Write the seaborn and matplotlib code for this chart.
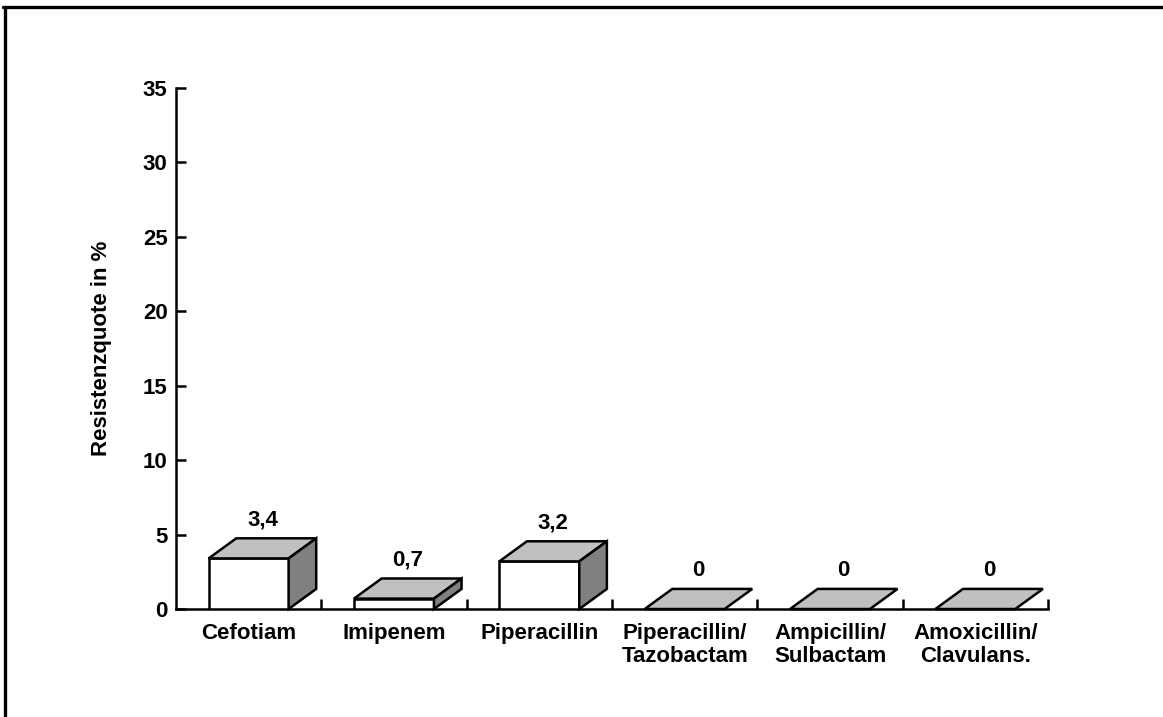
import matplotlib
matplotlib.use("Agg")
import matplotlib.pyplot as plt
from matplotlib.patches import Polygon
from matplotlib.lines import Line2D
import seaborn as sns
import pandas as pd

categories = ["Cefotiam", "Imipenem", "Piperacillin",
              "Piperacillin/\nTazobactam", "Ampicillin/\nSulbactam",
              "Amoxicillin/\nClavulans."]
values = [3.4, 0.7, 3.2, 0, 0, 0]
y_ticks = [0, 5, 10, 15, 20, 25, 30, 35]
y_label = "Resistenzquote in %"

df = pd.DataFrame({"Antibiotikum": categories, "Quote": values})

sns.set_theme(style="white")
plt.rcParams["font.family"] = ["Liberation Sans", "DejaVu Sans"]
plt.rcParams["font.weight"] = "bold"

FS = 16
DEPTH_X = 0.19   # depth of the 3D extrusion, in category units
DEPTH_Y = 1.35   # depth of the 3D extrusion, in value units
TOP_COLOR = "#c0c0c0"
SIDE_COLOR = "#808080"
LW = 1.8

fig = plt.figure(figsize=(11.63, 7.17), dpi=100)
ax = fig.add_axes([0.1513, 0.1506, 0.7498, 0.7267])

sns.barplot(data=df, x="Antibiotikum", y="Quote", ax=ax, color="white",
            width=0.55, edgecolor="black", linewidth=LW, saturation=1,
            errorbar=None, zorder=3)

for p, v in zip(ax.patches, values):
    x0, w, h = p.get_x(), p.get_width(), p.get_height()
    top = Polygon([(x0, h), (x0 + w, h), (x0 + w + DEPTH_X, h + DEPTH_Y),
                   (x0 + DEPTH_X, h + DEPTH_Y)], closed=True,
                  facecolor=TOP_COLOR, edgecolor="black", linewidth=LW,
                  joinstyle="miter", zorder=4, clip_on=False)
    ax.add_patch(top)
    if h > 0:
        side = Polygon([(x0 + w, 0), (x0 + w + DEPTH_X, DEPTH_Y),
                        (x0 + w + DEPTH_X, h + DEPTH_Y), (x0 + w, h)],
                       closed=True, facecolor=SIDE_COLOR, edgecolor="black",
                       linewidth=LW, joinstyle="miter", zorder=4,
                       clip_on=False)
        ax.add_patch(side)
    label = f"{v:g}".replace(".", ",")
    ax.annotate(label, xy=(x0 + w / 2 + DEPTH_X / 2, h + DEPTH_Y),
                xytext=(0, 13), textcoords="offset points",
                ha="center", va="center", fontsize=FS, fontweight="bold",
                color="black", zorder=5)

ax.set_xlim(-0.5, len(categories) - 0.5)
ax.set_ylim(0, 35)
ax.set_yticks(y_ticks)
ax.set_yticklabels([str(t) for t in y_ticks], fontsize=FS, fontweight="bold")
ax.tick_params(axis="y", direction="in", length=7.5, width=LW, pad=6,
               colors="black", left=True)

ax.set_xticks(range(len(categories)))
ax.set_xticklabels(categories, fontsize=FS, fontweight="bold",
                   linespacing=1.1)
ax.set_xticks([i + 0.5 for i in range(len(categories))], minor=True)
ax.tick_params(axis="x", which="major", length=0, pad=10, colors="black")
ax.tick_params(axis="x", which="minor", direction="in", length=7,
               width=LW, bottom=True, colors="black")

ax.set_xlabel("")
ax.set_ylabel(y_label, fontsize=FS, fontweight="bold", color="black")
ax.yaxis.set_label_coords(-0.073, 0.5)

for s in ["top", "right"]:
    ax.spines[s].set_visible(False)
for s in ["left", "bottom"]:
    ax.spines[s].set_color("black")
    ax.spines[s].set_linewidth(LW)
ax.grid(False)

# frame lines along the top and left edge of the figure
fig.add_artist(Line2D([0.003, 1.0], [0.990, 0.990], color="black",
                      linewidth=2.4, transform=fig.transFigure))
fig.add_artist(Line2D([0.0043, 0.0043], [0.0, 0.990], color="black",
                      linewidth=2.4, transform=fig.transFigure))

fig.savefig("out.png", dpi=100, facecolor="white")
